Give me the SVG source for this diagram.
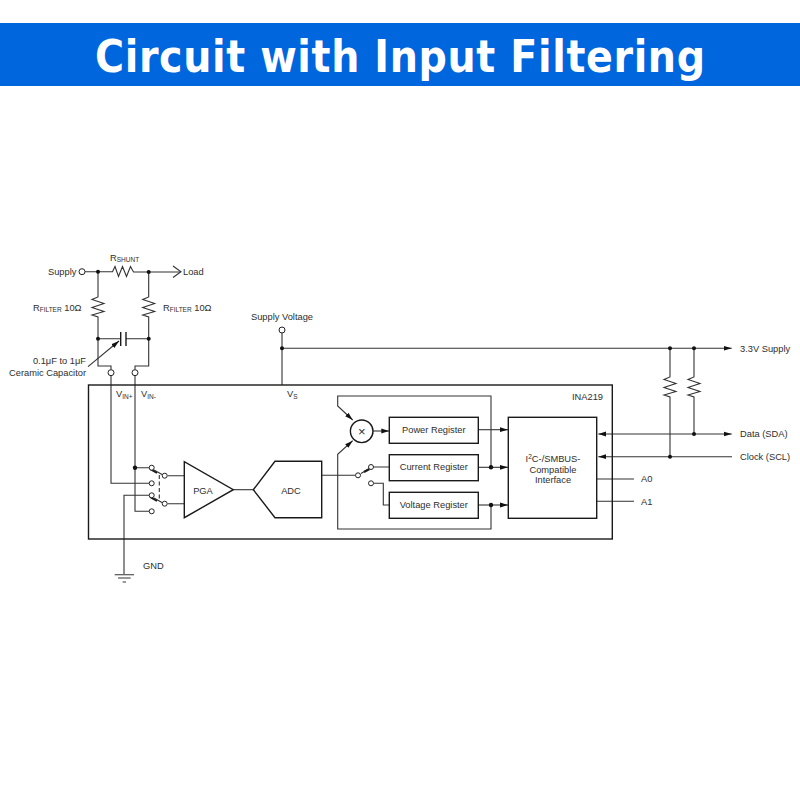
<svg xmlns="http://www.w3.org/2000/svg" width="800" height="800" viewBox="0 0 800 800">
<style>
text{font-family:"Liberation Sans",Arial,sans-serif;font-size:9.300px;fill:#2e2e2e}
.sub{font-size:6.500px}
.w{fill:none;stroke:#333;stroke-width:1.100}
.b{fill:none;stroke:#1a1a1a;stroke-width:1.400}
.t{fill:none;stroke:#333;stroke-width:1.100}
.o{fill:#fff;stroke:#222;stroke-width:1}
.d{fill:#111;stroke:none}
.title{font-family:"DejaVu Sans Condensed","DejaVu Sans",sans-serif;font-size:44px;font-weight:700;fill:#fff}
</style>
<defs>
<marker id="a" viewBox="0 0 8 6" refX="8" refY="3" markerWidth="8" markerHeight="6" markerUnits="userSpaceOnUse" orient="auto"><path d="M0 0.600L8 3L0 5.400z" fill="#111"/></marker>
<path id="rv" class="t" d="M0 0L0 2L-6 4.500L6 8.500L-6 12.500L6 16.500L-6 20L0 22L0 23"/>
</defs>
<rect x="0" y="23" width="800" height="63" fill="#0066dd"/>
<text class="title" x="95" y="72" textLength="610" lengthAdjust="spacing">Circuit with Input Filtering</text>

<g id="connectors">
<path class="w" d="M85 271.700H112.500L115 266.500L118.500 276.500L122.500 266.500L126.500 276.500L130.500 266.500L133.500 272H148.700H180"/>
<path class="w" d="M173 266L181 271.800L173 277.500"/>
<path class="w" d="M98 272V295M98 318V366H111V369.500M111 376V483.300H149"/>
<path class="w" d="M148.700 272V295M148.700 318V366H135V369.500M135 376V511.300H149"/>
<path class="w" d="M98 338.700H120.700M126 338.700H148.700"/>
<path class="b" d="M120.700 332V346M126 332V346"/>
<path class="w" d="M88 366.700L119 341" marker-end="url(#a)"/>
<path class="w" d="M135 467.700H149M124 574V495.300H149"/>
<path class="w" d="M167.700 475.700H184.300M167.700 503.700H184.300"/>
<path class="w" d="M154 470L162 474.500M154 498L162 502.500"/>
<path class="b" style="stroke-width:2" d="M150 469L157 473M150 497L157 501"/>
<path class="w" stroke-dasharray="4 2.500" d="M159.300 475V500"/>
<path class="w" d="M233.300 489.700H253.300"/>
<path class="w" d="M321.700 475.300H355.200M361 473.500L368.500 469"/>
<path class="b" style="stroke-width:2" d="M364 472L369.500 469"/>
<path class="w" d="M374 467H389.300M374 483.300H383.300V505H389.300"/>
<path class="w" d="M373 431H389.300" marker-end="url(#a)"/>
<path class="w" d="M478.300 429.700H508" marker-end="url(#a)"/>
<path class="w" d="M478.300 467.300H508" marker-end="url(#a)"/>
<path class="w" d="M478.300 505H508" marker-end="url(#a)"/>
<path class="w" d="M491 467.300V396H337.700V406L352.700 420" marker-end="url(#a)"/>
<path class="w" d="M491 505V529H337.700V454.300L352.700 440.700" marker-end="url(#a)"/>
<path class="w" d="M282 333V385M282 348.300H731.700" marker-end="url(#a)"/>
<path class="w" d="M670 348.300V375M670 398V456.700M694 348.300V375M694 398V434"/>
<path class="w" d="M598.300 434H731.700" marker-end="url(#a)"/>
<path class="w" d="M598.300 456.700H732"/>
<path class="d" d="M598.300 434L606 431.600V436.400zM598.300 456.700L606 454.300V459.100z"/>
<path class="w" d="M596.700 479H634M596.700 501.300H634"/>
<path class="w" d="M114.700 574.700H134M118 578H130.700M122.700 582H126"/>
<g class="d">
<circle cx="98" cy="271.700" r="2"/><circle cx="148.700" cy="272" r="2"/><circle cx="98" cy="338.700" r="2"/><circle cx="148.700" cy="338.700" r="2"/>
<circle cx="135" cy="467.700" r="2.200"/><circle cx="282" cy="348.300" r="2"/><circle cx="670" cy="348.300" r="2"/><circle cx="694" cy="348.300" r="2"/><circle cx="694" cy="434" r="2"/><circle cx="670" cy="456.700" r="2"/>
<circle cx="491" cy="467.300" r="2.200"/><circle cx="491" cy="505" r="2.200"/>
</g>
</g>

<g id="chip"><rect class="b" x="88.500" y="385" width="523.800" height="154"/><text x="603" y="400" text-anchor="end">INA219</text></g>
<g id="r-filter-left"><use href="#rv" x="98" y="295"/></g>
<g id="r-filter-right"><use href="#rv" x="148.700" y="295"/></g>
<g id="r-pull-1"><use href="#rv" x="670" y="375"/></g>
<g id="r-pull-2"><use href="#rv" x="694" y="375"/></g>
<g id="terminals">
<circle class="o" cx="82" cy="271.700" r="3"/><circle class="o" cx="111" cy="372.700" r="3"/><circle class="o" cx="135" cy="372.700" r="3"/><circle class="o" cx="282" cy="330" r="3"/>
<circle class="o" cx="151.700" cy="467.700" r="2.500"/><circle class="o" cx="151.700" cy="483.300" r="2.500"/><circle class="o" cx="151.700" cy="495.300" r="2.500"/><circle class="o" cx="151.700" cy="511.300" r="2.500"/>
<circle class="o" cx="164.700" cy="475.700" r="2.500"/><circle class="o" cx="164.700" cy="503.700" r="2.500"/>
<circle class="o" cx="358" cy="475.300" r="2.500"/><circle class="o" cx="371" cy="467" r="2.500"/><circle class="o" cx="371" cy="483.300" r="2.500"/>
</g>
<g id="pga"><path class="b" d="M184.300 461.700V517.700L233.300 489.700z"/><text x="203" y="493.500" text-anchor="middle">PGA</text></g>
<g id="adc"><path class="b" d="M253.300 489.700L275 461.300H321.700V517.700H275z"/><text x="291" y="493.500" text-anchor="middle">ADC</text></g>
<g id="multiplier"><circle class="b" cx="361.700" cy="431.300" r="11.300"/><text x="361.700" y="435.500" text-anchor="middle" style="font-size:13px">×</text></g>
<g id="power-register"><rect class="b" x="389.300" y="417.300" width="89" height="26"/><text x="433.800" y="433" text-anchor="middle">Power Register</text></g>
<g id="current-register"><rect class="b" x="389.300" y="454.700" width="89" height="26"/><text x="433.800" y="470" text-anchor="middle">Current Register</text></g>
<g id="voltage-register"><rect class="b" x="389.300" y="492.300" width="89" height="26"/><text x="433.800" y="508" text-anchor="middle">Voltage Register</text></g>
<g id="interface"><rect class="b" x="508.300" y="417.300" width="88.400" height="101"/>
<text x="553" y="462" text-anchor="middle">I<tspan class="sub" dy="-3">2</tspan><tspan dy="3">C-/SMBUS-</tspan></text>
<text x="553" y="473" text-anchor="middle">Compatible</text><text x="553" y="483" text-anchor="middle">Interface</text></g>
<g id="labels">
<text x="48" y="274.500">Supply</text>
<text x="183" y="274.500">Load</text>
<text x="110" y="260.500">R<tspan class="sub" dy="1.500">SHUNT</tspan></text>
<text x="33" y="310.500">R<tspan class="sub" dy="1.500">FILTER</tspan><tspan dy="-1.500"> 10Ω</tspan></text>
<text x="163" y="310.500">R<tspan class="sub" dy="1.500">FILTER</tspan><tspan dy="-1.500"> 10Ω</tspan></text>
<text x="86" y="364" text-anchor="end">0.1μF to 1μF</text>
<text x="86" y="376" text-anchor="end">Ceramic Capacitor</text>
<text x="282" y="320" text-anchor="middle">Supply Voltage</text>
<text x="116" y="397">V<tspan class="sub" dy="1.500">IN+</tspan></text>
<text x="141" y="397">V<tspan class="sub" dy="1.500">IN-</tspan></text>
<text x="287" y="397">V<tspan class="sub" dy="1.500">S</tspan></text>
<text x="143" y="569">GND</text>
<text x="740" y="351.500">3.3V Supply</text>
<text x="740" y="437">Data (SDA)</text>
<text x="740" y="459.500">Clock (SCL)</text>
<text x="641" y="482">A0</text>
<text x="641" y="504.500">A1</text>
</g>
</svg>
